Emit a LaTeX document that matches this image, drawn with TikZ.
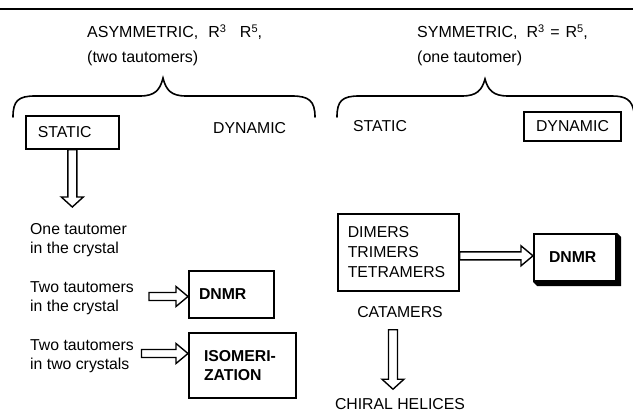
\documentclass[tikz,border=0pt]{standalone}
\usepackage{fontspec}
\setmainfont{Liberation Sans}
\usetikzlibrary{calc}
\newcommand\hArrow[2]{\draw[arrowline] let \p1=(#1), \p2=(#2) in
  (\x1,\y1+4pt) -- (\x2-12pt,\y1+4pt) -- (\x2-12pt,\y1+10pt) -- (\x2,\y1)
  -- (\x2-12pt,\y1-10pt) -- (\x2-12pt,\y1-4pt) -- (\x1,\y1-4pt) -- cycle;}
\newcommand\vArrow[2]{\draw[arrowline] let \p1=(#1), \p2=(#2) in
  (\x1-4.5pt,\y1) -- (\x1-4.5pt,\y2+10pt) -- (\x1-11pt,\y2+10pt) -- (\x1,\y2)
  -- (\x1+11pt,\y2+10pt) -- (\x1+4.5pt,\y2+10pt) -- (\x1+4.5pt,\y1) -- cycle;}
\newcommand\supnum[1]{\raisebox{5.5pt}{\fontsize{11}{11}\selectfont #1}}
\tikzset{
  lbl/.style={font=\fontsize{15.8}{19}\selectfont, inner sep=0pt, align=left},
  hdr/.style={lbl, font=\fontsize{16}{19}\selectfont, anchor=west},
  box/.style={lbl, draw, line width=1.6pt, anchor=north west, inner ysep=0pt},
  heavy/.style={line width=2pt, font=\fontsize{15.8}{18.5}\selectfont\bfseries},
  arrowline/.style={draw, fill=white, line width=1.4pt, line join=miter},
  bracestyle/.style={draw, line width=1.6pt, line cap=round}
}
\begin{document}
\begin{tikzpicture}[x=1pt,y=-1pt]
\useasboundingbox (0,0) rectangle (633,412);
% top rule
\draw[line width=2.5pt] (0,9) -- (633,9);
% headers
\node[hdr] (hdrL) at (87,32) {ASYMMETRIC,\hspace{10pt}R\supnum{3}\hspace{14pt}R\supnum{5},};
\node[hdr] (hdrL2) at (87,58) {(two tautomers)};
\node[hdr] (hdrR) at (417,32) {SYMMETRIC,\hspace{9pt}R\supnum{3}\hspace{6pt}=\hspace{6pt}R\supnum{5},};
\node[hdr] (hdrR2) at (417,58) {(one tautomer)};
% braces
\draw[bracestyle] (13,117) .. controls (13,101) and (18,96) .. (35,96) -- (140,96)
  .. controls (155,96) and (160,90) .. (163,78) .. controls (166,90) and (171,96) .. (186,96)
  -- (292,96) .. controls (309,96) and (315,101) .. (315,117);
\draw[bracestyle] (337,117) .. controls (337,101) and (342,96) .. (359,96) -- (462,96)
  .. controls (477,96) and (482,90) .. (485,79) .. controls (488,90) and (493,96) .. (508,96)
  -- (612,96) .. controls (626,96) and (632,100) .. (634,112);
% left branch
\node[box, minimum width=93pt, minimum height=33pt, text width=69pt, inner xsep=12pt] (stL) at (25,115) {STATIC};
\node[lbl, anchor=west] (dynL) at (213,128) {DYNAMIC};
\node[lbl, anchor=west] (one) at (30,240) {One tautomer\\in the crystal};
\node[lbl, anchor=west] (two1) at (30,298) {Two tautomers\\in the crystal};
\node[lbl, anchor=west] (two2) at (30,356.5) {Two tautomers\\in two crystals};
\node[box, heavy, minimum width=85pt, minimum height=47pt, text width=65pt, inner xsep=10pt] (dnmrL) at (188,270) {DNMR};
\node[box, heavy, minimum width=107pt, minimum height=65pt, text width=77pt, inner xsep=15pt] (isom) at (188,332) {ISOMERI-\\ZATION};
\coordinate (tipL) at (71.5,207);
\vArrow{stL.south}{tipL}
\hArrow{[shift={(15pt,1.5pt)}]two1.east}{dnmrL.west}
\hArrow{[shift={(7.5pt,3pt)}]two2.east}{isom.west}
% right branch
\node[lbl, anchor=west] (stR) at (353,126) {STATIC};
\node[box, line width=2pt, minimum width=97pt, minimum height=29pt, text width=97pt, inner xsep=0pt, align=center] (dynR) at (523,111) {DYNAMIC};
\node[box, font=\fontsize{15.8}{20}\selectfont, minimum width=121pt, minimum height=77pt, text width=101pt, inner xsep=10pt] (mers) at (337,213) {DIMERS\\TRIMERS\\TETRAMERS};
\node[box, heavy, minimum width=82pt, minimum height=47pt, text width=66pt, inner xsep=8pt] (dnmrR) at (533,233) {\hspace*{7pt}DNMR};
\fill (dnmrR.north east) -- ([shift={(4pt,-4pt)}]dnmrR.north east)
  -- ([shift={(4pt,-4pt)}]dnmrR.south east) -- ([shift={(4pt,-4pt)}]dnmrR.south west)
  -- (dnmrR.south west) -- (dnmrR.south east) -- cycle;
\node[lbl] (cat) at (400,312) {CATAMERS};
\node[lbl] (chiral) at (400,404) {CHIRAL HELICES};
\hArrow{[yshift=-3.5pt]mers.east}{dnmrR.west}
\vArrow{[shift={(-7pt,-12pt)}]cat.south}{[shift={(-7pt,9pt)}]chiral.north}
\end{tikzpicture}
\end{document}
